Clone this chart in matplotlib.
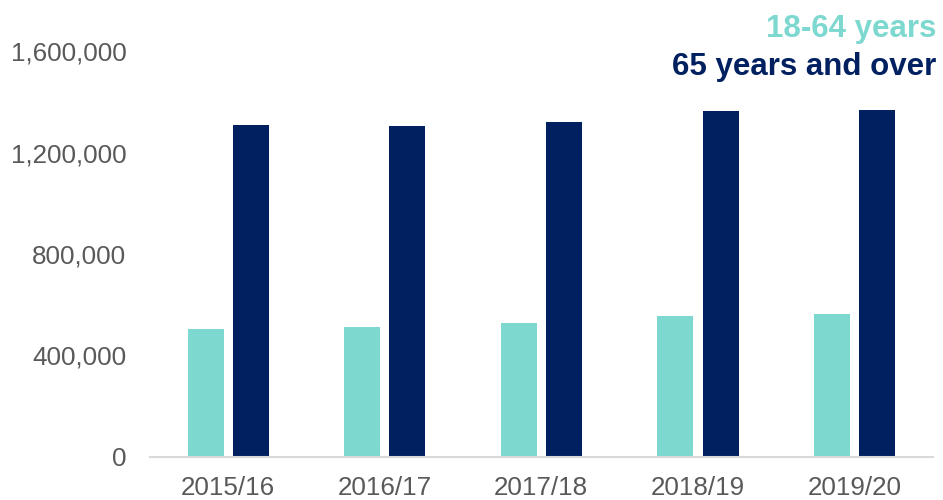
import numpy as np
import matplotlib
matplotlib.use('Agg')
import matplotlib.pyplot as plt
from matplotlib.ticker import FuncFormatter

# Data
years = ['2015/16', '2016/17', '2017/18', '2018/19', '2019/20']
age_18_64 = [504000, 512000, 528000, 554000, 564000]
age_65_over = [1308000, 1304000, 1320000, 1362000, 1369000]

teal = '#7DD8D0'
navy = '#002060'
grey = '#595959'

plt.rcParams['font.family'] = ['Liberation Sans', 'DejaVu Sans']

fig = plt.figure(figsize=(9.43, 5), dpi=100)
ax = fig.add_axes([0.159, 0.086, 0.83, 0.812])

x = np.arange(len(years))
width = 0.23
ax.bar(x - 0.145, age_18_64, width, color=teal)
ax.bar(x + 0.145, age_65_over, width, color=navy)

ax.set_xlim(-0.5, len(years) - 0.5)
ax.set_ylim(0, 1600000)
ax.set_yticks([0, 400000, 800000, 1200000, 1600000])
ax.yaxis.set_major_formatter(FuncFormatter(lambda v, p: '{:,.0f}'.format(v)))
ax.set_xticks(x)
ax.set_xticklabels(years)

for s in ['top', 'right', 'left']:
    ax.spines[s].set_visible(False)
ax.spines['bottom'].set_color('#D9D9D9')
ax.spines['bottom'].set_linewidth(1.5)
ax.tick_params(axis='y', length=0, pad=17, labelsize=18.7, labelcolor=grey)
ax.tick_params(axis='x', length=0, pad=14, labelsize=18.7, labelcolor=grey)

# legend as coloured text
fig.text(936 / 943, 1 - 36.5 / 500, '18-64 years', color=teal, fontsize=22.5,
         fontweight='bold', ha='right', va='baseline')
fig.text(936 / 943, 1 - 75 / 500, '65 years and over', color=navy, fontsize=22.5,
         fontweight='bold', ha='right', va='baseline')

fig.savefig('out.png', dpi=100)
